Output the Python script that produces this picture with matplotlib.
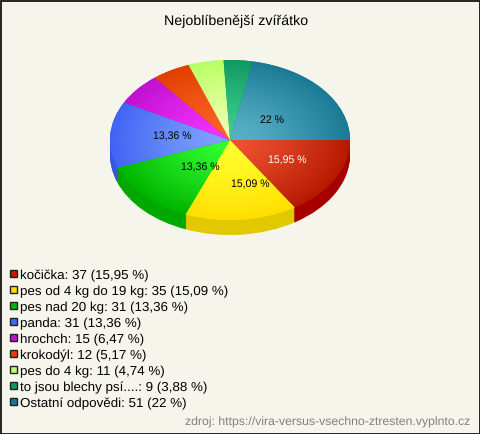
import numpy as np
import matplotlib
matplotlib.use("Agg")
import matplotlib.pyplot as plt
from matplotlib.patches import Rectangle
from matplotlib.colors import to_rgb

title = "Nejoblíbenější zvířátko"
source = "zdroj: https://vira-versus-vsechno-ztresten.vyplnto.cz"
names = ["kočička", "pes od 4 kg do 19 kg", "pes nad 20 kg", "panda", "hrochch",
         "krokodýl", "pes do 4 kg", "to jsou blechy psí....", "Ostatní odpovědi"]
counts = [37, 35, 31, 31, 15, 12, 11, 9, 51]
percents = ["15,95", "15,09", "13,36", "13,36", "6,47", "5,17", "4,74", "3,88", "22"]

inner = ["#f05232", "#ffff30", "#33ff33", "#80a4ff", "#f535ff", "#ff6525", "#f2ffb5", "#40d090", "#5ab2c8"]
outer = ["#b51a00", "#ffdf00", "#00b400", "#4064f4", "#c010d0", "#e04000", "#b8ff60", "#109860", "#1a7a95"]
side = ["#a80000", "#e2c800", "#00a800", "#3558d8", "#9000a0", "#b03000", "#90d040", "#087048", "#105a70"]
legend_fill = ["#c01a00", "#ffe000", "#00b800", "#4068f0", "#c010d0", "#e04000", "#c0ff70", "#109860", "#1a7a95"]

W, H = 480, 434
BG = "#f5f5ec"
plt.rcParams["font.family"] = ["Liberation Sans", "DejaVu Sans"]
plt.rcParams["text.hinting"] = "none"
plt.rcParams["text.hinting_factor"] = 8
fig = plt.figure(figsize=(W / 100, H / 100), dpi=100, facecolor=BG)

bg = fig.add_axes([0, 0, 1, 1])
bg.set_xlim(0, W)
bg.set_ylim(H, 0)
bg.axis("off")

# Pie axes: ellipse x 110..350, top y 60, ry 80, wall depth 15
ax = fig.add_axes([110 / W, 1 - 235 / H, 240 / W, 175 / H])
depth = 15 / 80
for d in np.arange(15, 0, -1) / 80:
    ax.pie(counts, colors=side, startangle=0, counterclock=False, radius=1,
           center=(0, -d), wedgeprops=dict(linewidth=0))
wedges, _ = ax.pie(counts, colors=outer, startangle=0, counterclock=False, radius=1,
                   wedgeprops=dict(linewidth=0))
n = 300
yy, xx = np.mgrid[1:-1:n * 1j, -1:1:n * 1j]
rr = (np.clip(np.hypot(xx, yy), 0, 1) ** 1.3)[..., None]
for w, a, b in zip(wedges, inner, outer):
    img = np.array(to_rgb(a)) * (1 - rr) + np.array(to_rgb(b)) * rr
    im = ax.imshow(img, extent=(-1, 1, -1, 1), aspect="auto", interpolation="bilinear", zorder=3)
    im.set_clip_path(w)
ax.set_aspect("auto")
ax.set_xlim(-1, 1)
ax.set_ylim(-1 - depth, 1)
ax.axis("off")
ax.patch.set_alpha(0)

# Slice labels
label_pos = {0: (287, 161), 1: (250, 185), 2: (200, 168), 3: (172, 137), 8: (272, 120)}
for i, (x, y) in label_pos.items():
    bg.text(x, y, f"{percents[i]} %", ha="center", va="center", fontsize=7.6,
            color="white" if i == 0 else "black", zorder=5)
bg.set_zorder(2)
bg.patch.set_alpha(0)

bg.text(236, 21, title, ha="center", va="center", fontsize=10.3, color="#000000")

for i, (nm, c, p, col) in enumerate(zip(names, counts, percents, legend_fill)):
    y = 274 + i * 16
    bg.add_patch(Rectangle((9.5, y - 4), 7, 7, facecolor=col, edgecolor="#222222", linewidth=1))
    bg.text(20, y + 1.5, f"{nm}: {c} ({p} %)", ha="left", va="center",
            fontsize=9.6, color="#000000")

bg.text(470, 422, source, ha="right", va="center", fontsize=8.8, color="#808080")
bg.add_patch(Rectangle((0.5, 0.5), W - 1, H - 1, fill=False, edgecolor="black", linewidth=1.2))

fig.savefig("out.png", dpi=100, facecolor=BG)
